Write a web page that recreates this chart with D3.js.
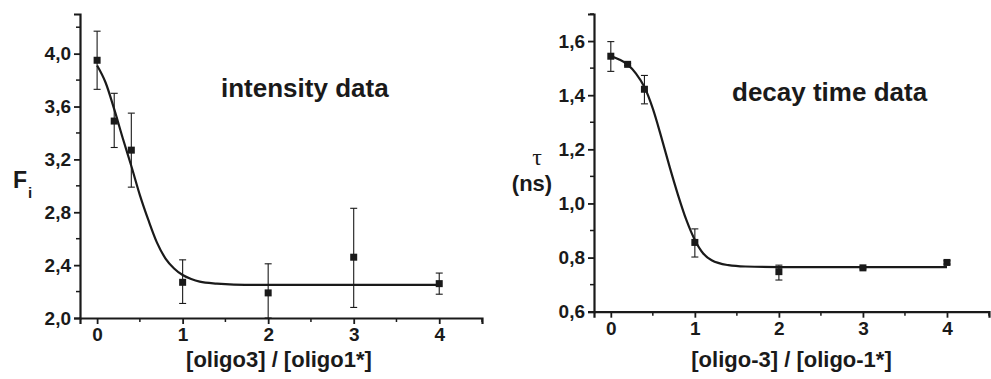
<!DOCTYPE html>
<html><head><meta charset="utf-8">
<script src="https://cdn.jsdelivr.net/npm/d3@7"></script>
<style>html,body{margin:0;padding:0;background:#fff;} svg{display:block;font-family:"Liberation Sans",Arial,sans-serif;}</style>
</head><body>
<svg id="c" width="991" height="379"></svg>
<script>
// ---- data ----
const ratio = [0, 0.2, 0.4, 1, 2, 3, 4];
const intensity = [3.95, 3.49, 3.27, 2.27, 2.19, 2.46, 2.26];
const intensityLo = [3.73, 3.29, 2.99, 2.11, 2.00, 2.08, 2.18];
const intensityHi = [4.17, 3.70, 3.55, 2.44, 2.41, 2.83, 2.34];
const decay = [1.544, 1.514, 1.422, 0.856, 0.748, 0.762, 0.782];
const decayLo = [1.488, 1.510, 1.368, 0.802, 0.717, 0.758, 0.776];
const decayHi = [1.598, 1.518, 1.473, 0.906, 0.772, 0.766, 0.788];
const fitX = [0, 0.1, 0.2, 0.3, 0.4, 0.5, 0.6, 0.7, 0.8, 0.9, 1.0, 1.1, 1.2, 1.4, 1.6, 2, 3, 4];
const intensityFit = [3.91, 3.78, 3.58, 3.36, 3.15, 2.93, 2.74, 2.57, 2.45, 2.375, 2.325, 2.295, 2.275, 2.26, 2.253, 2.25, 2.25, 2.25];
const decayFit = [1.545, 1.532, 1.513, 1.48, 1.43, 1.35, 1.246, 1.135, 1.031, 0.938, 0.865, 0.815, 0.79, 0.772, 0.767, 0.765, 0.765, 0.765];
const xTicks = [0, 1, 2, 3, 4];
const intensityTicks = [2.0, 2.4, 2.8, 3.2, 3.6, 4.0];
const decayTicks = [0.6, 0.8, 1.0, 1.2, 1.4, 1.6];

const svg = d3.select("#c");
const ink = "#1a1a1a";
const FONT = "'Liberation Sans', Arial, sans-serif";
const fmt = d => d3.format(".1f")(d).replace(".", ",");

function panel(o) {
  const x = d3.scaleLinear().domain([-0.2, 4.5]).range([o.left, o.right]);
  const y = d3.scaleLinear().domain(o.yDom).range([o.bottom, o.top]);
  const g = svg.append("g");

  // minor ticks
  const xMinor = d3.range(0.5, 4.51, 1);
  g.selectAll(".xm").data(xMinor).join("line")
    .attr("x1", d => x(d)).attr("x2", d => x(d))
    .attr("y1", o.bottom).attr("y2", o.bottom + 4)
    .attr("stroke", ink).attr("stroke-width", 1.5);
  g.selectAll(".ym").data(o.yMinor).join("line")
    .attr("y1", d => y(d)).attr("y2", d => y(d))
    .attr("x1", x(-0.2) - 4).attr("x2", x(-0.2))
    .attr("stroke", ink).attr("stroke-width", 1.5);

  const xa = g.append("g").attr("transform", `translate(0,${o.bottom})`)
    .call(d3.axisBottom(x).tickValues(xTicks).tickSize(6).tickPadding(4).tickFormat(d3.format("d")));
  const ya = g.append("g").attr("transform", `translate(${x(-0.2)},0)`)
    .call(d3.axisLeft(y).tickValues(o.yTicks).tickSize(6).tickPadding(3).tickFormat(fmt));
  [xa, ya].forEach(a => {
    a.attr("font-family", FONT).attr("font-size", 19).attr("font-weight", "bold");
    a.select(".domain").attr("stroke", ink).attr("stroke-width", 2.2);
    a.selectAll(".tick line").attr("stroke", ink).attr("stroke-width", 1.8);
    a.selectAll(".tick text").attr("fill", ink);
  });

  // fit curve
  g.append("path")
    .datum(fitX.map((d, i) => [d, o.fit[i]]))
    .attr("d", d3.line().x(d => x(d[0])).y(d => y(d[1])).curve(d3.curveMonotoneX))
    .attr("fill", "none").attr("stroke", ink).attr("stroke-width", 2.2);

  // error bars
  const eb = g.selectAll(".eb").data(ratio).join("g");
  eb.append("line").attr("x1", d => x(d)).attr("x2", d => x(d))
    .attr("y1", (d, i) => y(o.lo[i])).attr("y2", (d, i) => y(o.hi[i]))
    .attr("stroke", ink).attr("stroke-width", 1.1);
  ["lo", "hi"].forEach(k => {
    eb.append("line").attr("x1", d => x(d) - 3.5).attr("x2", d => x(d) + 3.5)
      .attr("y1", (d, i) => y(o[k][i])).attr("y2", (d, i) => y(o[k][i]))
      .attr("stroke", ink).attr("stroke-width", 1.1);
  });
  // markers
  g.selectAll(".pt").data(ratio).join("rect")
    .attr("x", d => x(d) - 3.5).attr("y", (d, i) => y(o.vals[i]) - 3.5)
    .attr("width", 7).attr("height", 7).attr("fill", ink);

  // labels
  g.append("text").attr("x", o.titleX).attr("y", o.titleY)
    .attr("font-size", 26).attr("font-weight", "bold").attr("fill", ink).text(o.title);
  g.append("text").attr("x", (o.left + o.right) / 2 + o.xlabDx).attr("y", 367)
    .attr("text-anchor", "middle").attr("font-size", o.xlabSize).attr("font-weight", "bold").attr("fill", ink).text(o.xlab);
  return g;
}

const g1 = panel({left: 80, right: 482, top: 14, bottom: 318, yDom: [2.0, 4.3],
  yTicks: intensityTicks, yMinor: [2.2, 2.6, 3.0, 3.4, 3.8, 4.2],
  vals: intensity, lo: intensityLo, hi: intensityHi, fit: intensityFit,
  title: "intensity data", titleX: 221, titleY: 97,
  xlab: "[oligo3] / [oligo1*]", xlabDx: -2, xlabSize: 22});
g1.append("text").attr("x", 13).attr("y", 188).attr("font-size", 23).attr("font-weight", "bold").attr("fill", ink).text("F");
g1.append("text").attr("x", 28).attr("y", 198).attr("font-size", 15).attr("font-weight", "bold").attr("fill", ink).text("i");

const g2 = panel({left: 594, right: 989, top: 14, bottom: 311.7, yDom: [0.6, 1.7],
  yTicks: decayTicks, yMinor: [0.7, 0.9, 1.1, 1.3, 1.5, 1.7],
  vals: decay, lo: decayLo, hi: decayHi, fit: decayFit,
  title: "decay time data", titleX: 732, titleY: 101,
  xlab: "[oligo-3] / [oligo-1*]", xlabDx: 0, xlabSize: 22});
g2.append("text").attr("x", 537).attr("y", 165).attr("text-anchor", "middle").attr("font-size", 24)
  .attr("font-family", "'Liberation Serif','DejaVu Serif',serif").attr("fill", ink).text("τ");
g2.append("text").attr("x", 532).attr("y", 191).attr("text-anchor", "middle").attr("font-size", 22)
  .attr("font-weight", "bold").attr("fill", ink).text("(ns)");
</script>
</body></html>
